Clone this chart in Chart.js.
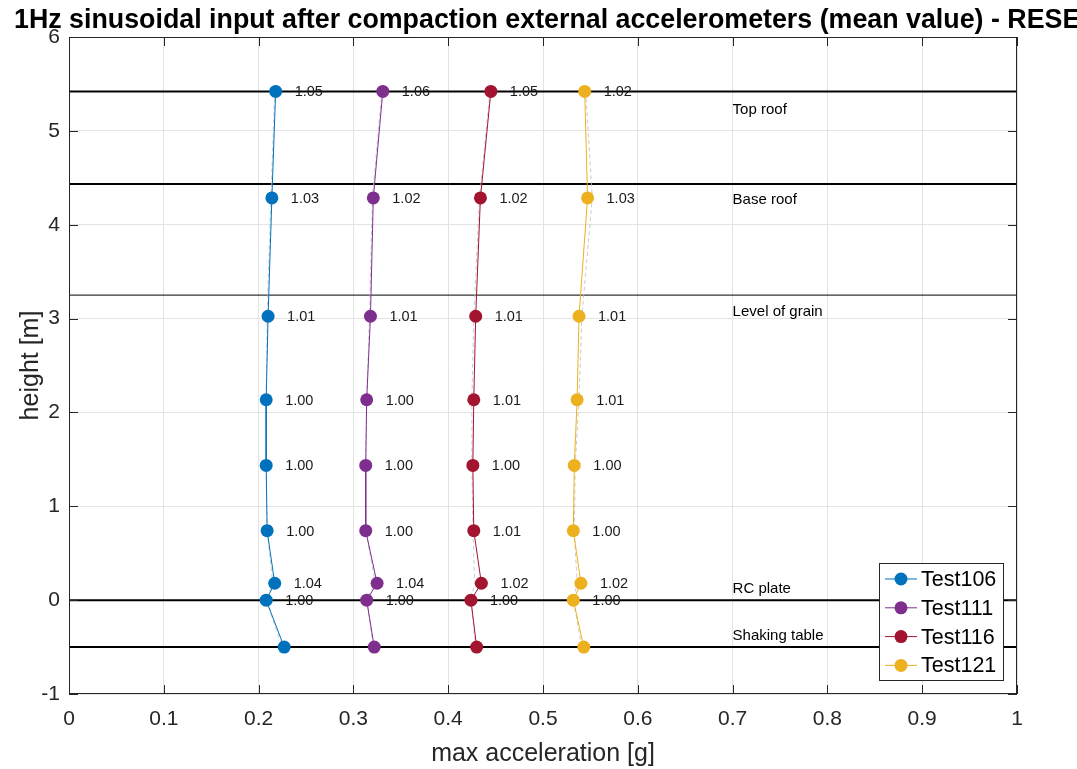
<!DOCTYPE html>
<html>
<head>
<meta charset="utf-8">
<script src="https://cdn.jsdelivr.net/npm/chart.js@4/dist/chart.umd.min.js"></script>
<style>
  html, body { margin: 0; padding: 0; background: #fff; }
  #wrap { width: 1077px; height: 769px; position: relative; }
</style>
</head>
<body>
<div id="wrap"><canvas id="chart"></canvas></div>
<script>
// heights of the sensors [m]
const heights = [5.42, 4.285, 3.025, 2.135, 1.435, 0.74, 0.18, 0.0, -0.50];

// max acceleration [g] per test
const test106 = [0.218, 0.214, 0.210, 0.208, 0.208, 0.209, 0.217, 0.208, 0.227];
const test111 = [0.331, 0.321, 0.318, 0.314, 0.313, 0.313, 0.325, 0.314, 0.322];
const test116 = [0.445, 0.434, 0.429, 0.427, 0.426, 0.427, 0.435, 0.424, 0.430];
const test121 = [0.544, 0.547, 0.538, 0.536, 0.533, 0.532, 0.540, 0.532, 0.543];

// faint dashed reference curves
const ref106 = [0.217, 0.213, 0.209, 0.208, 0.208, 0.209, 0.215, 0.208, 0.225];
const ref111 = [0.330, 0.320, 0.317, 0.314, 0.313, 0.313, 0.323, 0.314, 0.321];
const ref116 = [0.444, 0.433, 0.427, 0.425, 0.425, 0.426, 0.428, 0.424, 0.429];
const ref121 = [0.545, 0.552, 0.541, 0.538, 0.534, 0.533, 0.536, 0.532, 0.541];

// ratio labels next to the points
const ratio106 = ["1.05", "1.03", "1.01", "1.00", "1.00", "1.00", "1.04", "1.00", ""];
const ratio111 = ["1.06", "1.02", "1.01", "1.00", "1.00", "1.00", "1.04", "1.00", ""];
const ratio116 = ["1.05", "1.02", "1.01", "1.01", "1.00", "1.01", "1.02", "1.00", ""];
const ratio121 = ["1.02", "1.03", "1.01", "1.01", "1.00", "1.00", "1.02", "1.00", ""];

// structure levels
const levelNames = ["Top roof", "Base roof", "Level of grain", "RC plate", "Shaking table"];
const levelHeights = [5.42, 4.435, 3.25, 0.0, -0.50];
const levelLabelY = [5.22, 4.265, 3.075, 0.12, -0.385];
const levelWidths = [2, 2, 1, 2, 2];
const levelLabelX = 0.7;

const names = ["Test106", "Test111", "Test116", "Test121"];
const colors = ["#0072BD", "#7E2F8E", "#A2142F", "#EDB120"];
const series = [test106, test111, test116, test121];
const refs = [ref106, ref111, ref116, ref121];
const ratios = [ratio106, ratio111, ratio116, ratio121];

const FONT = "'Liberation Sans', Arial, Helvetica, sans-serif";

const toPts = (xs) => xs.map((x, i) => ({ x: x, y: heights[i] }));

const datasets = [];

// level lines
levelHeights.forEach((h, i) => {
  datasets.push({
    label: levelNames[i],
    data: [{ x: 0, y: h }, { x: 1, y: h }],
    showLine: true,
    borderColor: "#000",
    borderWidth: levelWidths[i],
    pointRadius: 0,
    order: 5,
  });
});

// faint reference curves
refs.forEach((r, i) => {
  datasets.push({
    label: "ref" + i,
    data: toPts(r),
    showLine: true,
    borderColor: "rgba(190,190,190,0.8)",
    borderWidth: 1,
    borderDash: [4, 3],
    pointRadius: 0,
    order: 4,
  });
});

// tests
series.forEach((s, i) => {
  datasets.push({
    label: names[i],
    data: toPts(s),
    showLine: true,
    borderColor: colors[i],
    backgroundColor: colors[i],
    borderWidth: 1,
    pointRadius: 6.5,
    pointBorderWidth: 0,
    isTest: true,
    testIndex: i,
    order: 1,
  });
});

const decorations = {
  id: "decorations",
  afterDatasetsDraw(chart) {
    const ctx = chart.ctx;
    const area = chart.chartArea;
    const xs = chart.scales.x;
    const ys = chart.scales.y;

    ctx.save();
    // ratio labels
    ctx.font = "14.5px " + FONT;
    ctx.fillStyle = "#1a1a1a";
    ctx.textAlign = "left";
    ctx.textBaseline = "middle";
    chart.data.datasets.forEach((ds, di) => {
      if (!ds.isTest) return;
      const meta = chart.getDatasetMeta(di);
      meta.data.forEach((pt, k) => {
        const t = ratios[ds.testIndex][k];
        if (t) ctx.fillText(t, pt.x + 19, pt.y + 1);
      });
    });

    // level names
    ctx.fillStyle = "#000";
    ctx.font = "15px " + FONT;
    levelNames.forEach((n, i) => {
      ctx.fillText(n, xs.getPixelForValue(levelLabelX), ys.getPixelForValue(levelLabelY[i]));
    });

    // axes box
    ctx.strokeStyle = "#262626";
    ctx.lineWidth = 1;
    ctx.strokeRect(area.left + 0.5, area.top + 0.5, area.right - area.left - 1, area.bottom - area.top - 1);

    // inward tick marks
    ctx.beginPath();
    xs.ticks.forEach((t) => {
      const px = Math.round(xs.getPixelForValue(t.value)) + 0.5;
      ctx.moveTo(px, area.bottom); ctx.lineTo(px, area.bottom - 9);
      ctx.moveTo(px, area.top); ctx.lineTo(px, area.top + 9);
    });
    ys.ticks.forEach((t) => {
      const py = Math.round(ys.getPixelForValue(t.value)) + 0.5;
      ctx.moveTo(area.left, py); ctx.lineTo(area.left + 9, py);
      ctx.moveTo(area.right, py); ctx.lineTo(area.right - 9, py);
    });
    ctx.stroke();

    // legend
    const bw = 124, bh = 117;
    const bx = area.right - 138, by = area.bottom - 131;
    ctx.fillStyle = "#fff";
    ctx.fillRect(bx, by, bw, bh);
    ctx.strokeStyle = "#262626";
    ctx.strokeRect(bx + 0.5, by + 0.5, bw, bh);
    ctx.font = "21.5px " + FONT;
    ctx.textBaseline = "middle";
    names.forEach((n, i) => {
      const cy = by + 16 + i * 28.8;
      ctx.strokeStyle = colors[i];
      ctx.lineWidth = 1;
      ctx.beginPath();
      ctx.moveTo(bx + 6, cy); ctx.lineTo(bx + 38, cy);
      ctx.stroke();
      ctx.fillStyle = colors[i];
      ctx.beginPath();
      ctx.arc(bx + 22, cy, 6.5, 0, Math.PI * 2);
      ctx.fill();
      ctx.fillStyle = "#000";
      ctx.fillText(n, bx + 42, cy + 1);
    });

    // title
    ctx.font = "bold 26.8px " + FONT;
    ctx.fillStyle = "#000";
    ctx.textAlign = "left";
    ctx.textBaseline = "alphabetic";
    ctx.fillText("1Hz sinusoidal input after compaction external accelerometers (mean value) - RESET", 14, 28);
    ctx.restore();
  },
};

new Chart(document.getElementById("chart"), {
  type: "scatter",
  data: { datasets: datasets },
  options: {
    responsive: true,
    maintainAspectRatio: false,
    animation: false,
    layout: { padding: { left: 0, right: 60, top: 37, bottom: 0 } },
    plugins: {
      legend: { display: false },
      tooltip: { enabled: false },
      title: { display: false },
    },
    scales: {
      x: {
        type: "linear",
        min: 0,
        max: 1,
        ticks: {
          stepSize: 0.1,
          color: "#262626",
          font: { family: FONT, size: 21 },
          padding: 13,
          maxRotation: 0,
          callback: (v) => (Math.round(v * 10) / 10).toString(),
        },
        grid: { color: "#e3e3e3", drawTicks: false },
        border: { display: false },
        title: {
          display: true,
          text: "max acceleration [g]",
          color: "#262626",
          font: { family: FONT, size: 25 },
          padding: { top: 0, bottom: 0 },
        },
        afterFit: (s) => { s.height = 75; },
      },
      y: {
        type: "linear",
        min: -1,
        max: 6,
        ticks: {
          stepSize: 1,
          color: "#262626",
          font: { family: FONT, size: 21 },
          padding: 9,
        },
        grid: { color: "#e3e3e3", drawTicks: false },
        border: { display: false },
        title: {
          display: true,
          text: "height [m]",
          color: "#262626",
          font: { family: FONT, size: 25 },
          padding: { top: 16, bottom: 0 },
        },
        afterFit: (s) => { s.width = 69; },
      },
    },
  },
  plugins: [decorations],
});
</script>
</body>
</html>
